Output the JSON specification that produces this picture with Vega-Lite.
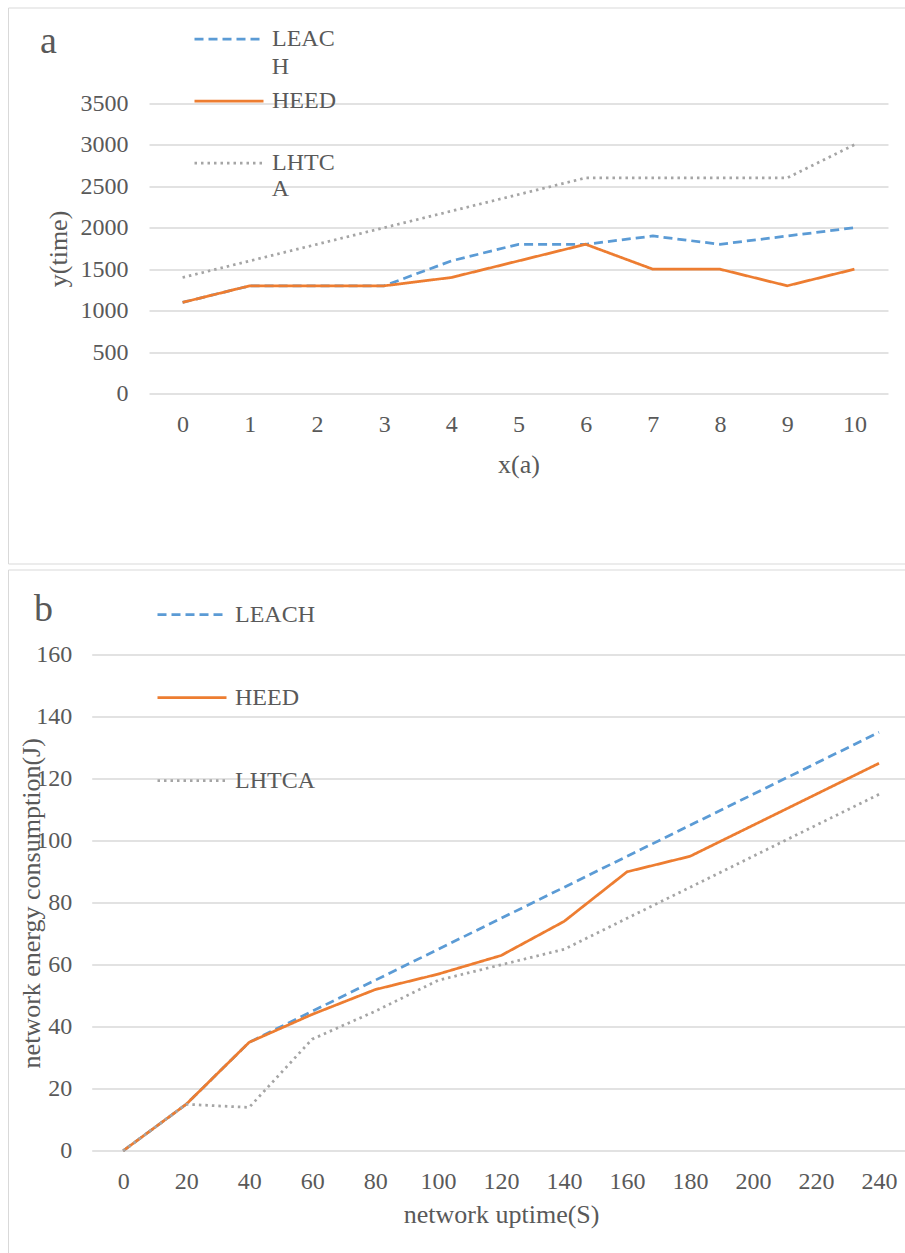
{
  "$schema": "https://vega.github.io/schema/vega-lite/v6.json",
  "padding": {"left": 7, "top": 2.5, "right": 0, "bottom": 0},
  "background": "white",
  "spacing": 4,
  "resolve": {"scale": {"color": "independent", "strokeDash": "independent", "opacity": "independent"}, "legend": {"color": "independent", "strokeDash": "independent", "opacity": "independent"}},
  "config": {
    "view": {"stroke": "#D9D9D9", "strokeWidth": 1},
    "font": "Liberation Serif",
    "axis": {
      "labelFont": "Liberation Serif", "labelFontSize": 24, "labelColor": "#595959",
      "titleFont": "Liberation Serif", "titleFontSize": 26, "titleColor": "#595959", "titleFontWeight": "normal",
      "domain": false, "ticks": false, "gridColor": "#D9D9D9", "gridWidth": 1.3
    },
    "legend": {
      "orient": "none", "direction": "vertical", "symbolType": "stroke", "symbolSize": 4761,
      "symbolStrokeWidth": 2.75, "labelFont": "Liberation Serif", "labelFontSize": 24,
      "labelColor": "#595959", "labelOffset": 7, "padding": 0, "labelLimit": 400,
      "titleFont": "Liberation Serif", "titleFontSize": 38, "titleFontWeight": "normal", "titleColor": "#595959",
      "titleOrient": "left", "titleBaseline": "top", "titleAnchor": "start"
    }
  },
  "datasets": {
    "a": [
      {"x": 0, "series": "LEACH", "value": 1100}, {"x": 1, "series": "LEACH", "value": 1300}, {"x": 2, "series": "LEACH", "value": 1300},
      {"x": 3, "series": "LEACH", "value": 1300}, {"x": 4, "series": "LEACH", "value": 1600}, {"x": 5, "series": "LEACH", "value": 1800},
      {"x": 6, "series": "LEACH", "value": 1800}, {"x": 7, "series": "LEACH", "value": 1900}, {"x": 8, "series": "LEACH", "value": 1800},
      {"x": 9, "series": "LEACH", "value": 1900}, {"x": 10, "series": "LEACH", "value": 2000},
      {"x": 0, "series": "HEED", "value": 1100}, {"x": 1, "series": "HEED", "value": 1300}, {"x": 2, "series": "HEED", "value": 1300},
      {"x": 3, "series": "HEED", "value": 1300}, {"x": 4, "series": "HEED", "value": 1400}, {"x": 5, "series": "HEED", "value": 1600},
      {"x": 6, "series": "HEED", "value": 1800}, {"x": 7, "series": "HEED", "value": 1500}, {"x": 8, "series": "HEED", "value": 1500},
      {"x": 9, "series": "HEED", "value": 1300}, {"x": 10, "series": "HEED", "value": 1500},
      {"x": 0, "series": "LHTCA", "value": 1400}, {"x": 1, "series": "LHTCA", "value": 1600}, {"x": 2, "series": "LHTCA", "value": 1800},
      {"x": 3, "series": "LHTCA", "value": 2000}, {"x": 4, "series": "LHTCA", "value": 2200}, {"x": 5, "series": "LHTCA", "value": 2400},
      {"x": 6, "series": "LHTCA", "value": 2600}, {"x": 7, "series": "LHTCA", "value": 2600}, {"x": 8, "series": "LHTCA", "value": 2600},
      {"x": 9, "series": "LHTCA", "value": 2600}, {"x": 10, "series": "LHTCA", "value": 3000}
    ],
    "b": [
      {"x": 0, "series": "LEACH", "value": 0}, {"x": 20, "series": "LEACH", "value": 15}, {"x": 40, "series": "LEACH", "value": 35},
      {"x": 60, "series": "LEACH", "value": 45}, {"x": 80, "series": "LEACH", "value": 55}, {"x": 100, "series": "LEACH", "value": 65},
      {"x": 120, "series": "LEACH", "value": 75}, {"x": 140, "series": "LEACH", "value": 85}, {"x": 160, "series": "LEACH", "value": 95},
      {"x": 180, "series": "LEACH", "value": 105}, {"x": 200, "series": "LEACH", "value": 115}, {"x": 220, "series": "LEACH", "value": 125},
      {"x": 240, "series": "LEACH", "value": 135},
      {"x": 0, "series": "HEED", "value": 0}, {"x": 20, "series": "HEED", "value": 15}, {"x": 40, "series": "HEED", "value": 35},
      {"x": 60, "series": "HEED", "value": 44}, {"x": 80, "series": "HEED", "value": 52}, {"x": 100, "series": "HEED", "value": 57},
      {"x": 120, "series": "HEED", "value": 63}, {"x": 140, "series": "HEED", "value": 74}, {"x": 160, "series": "HEED", "value": 90},
      {"x": 180, "series": "HEED", "value": 95}, {"x": 200, "series": "HEED", "value": 105}, {"x": 220, "series": "HEED", "value": 115},
      {"x": 240, "series": "HEED", "value": 125},
      {"x": 0, "series": "LHTCA", "value": 0}, {"x": 20, "series": "LHTCA", "value": 15}, {"x": 40, "series": "LHTCA", "value": 14},
      {"x": 60, "series": "LHTCA", "value": 36}, {"x": 80, "series": "LHTCA", "value": 45}, {"x": 100, "series": "LHTCA", "value": 55},
      {"x": 120, "series": "LHTCA", "value": 60}, {"x": 140, "series": "LHTCA", "value": 65}, {"x": 160, "series": "LHTCA", "value": 75},
      {"x": 180, "series": "LHTCA", "value": 85}, {"x": 200, "series": "LHTCA", "value": 95}, {"x": 220, "series": "LHTCA", "value": 105},
      {"x": 240, "series": "LHTCA", "value": 115}
    ]
  },
  "vconcat": [
    {
      "width": 905,
      "height": 556,
      "data": {"name": "a"},
      "mark": {"type": "line", "strokeWidth": 2.75},
      "encoding": {
        "x": {"field": "x", "type": "ordinal",
              "scale": {"type": "point", "range": [141, 880], "padding": 0.5},
              "axis": {"labelAngle": 0, "title": "x(a)", "offset": -170, "labelPadding": 19, "titleY": 79, "titleBaseline": "alphabetic", "grid": false}},
        "y": {"field": "value", "type": "quantitative",
              "scale": {"domain": [0, 3500], "range": [386.2, 95.7], "nice": false},
              "axis": {"title": "y(time)", "offset": -141, "labelPadding": 21, "format": "d", "values": [0, 500, 1000, 1500, 2000, 2500, 3000, 3500],
                       "titleX": -83, "titleBaseline": "alphabetic", "grid": true}},
        "color": {"field": "series", "type": "nominal",
                  "scale": {"domain": ["LEACH", "HEED", "LHTCA"], "range": ["#5B9BD5", "#ED7D31", "#A5A5A5"]},
                  "legend": {"title": ["", "a"], "titleLineHeight": 20, "titlePadding": 136, "legendX": 32, "legendY": -4.3, "rowPadding": 14,
                             "labelExpr": "datum.label == 'LEACH' ? 'LEAC' : datum.label == 'LHTCA' ? 'LHTC' : datum.label"}},
        "strokeDash": {"field": "series", "type": "nominal",
                       "scale": {"domain": ["LEACH", "HEED", "LHTCA"], "range": [[9, 5], [1, 0], [2.5, 4]]},
                       "legend": {"title": ["", "a"], "titleLineHeight": 20, "titlePadding": 136, "legendX": 32, "legendY": -4.3, "rowPadding": 14,
                                  "labelExpr": "datum.label == 'LEACH' ? 'LEAC' : datum.label == 'LHTCA' ? 'LHTC' : datum.label"}},
        "opacity": {"field": "series", "type": "ordinal", "sort": ["LEACH", "HEED", "LHTCA"],
                    "scale": {"range": [1, 1]},
                    "legend": {"title": null, "legendX": 185, "legendY": 24.5, "rowPadding": 14, "symbolOpacity": 0,
                               "symbolStrokeWidth": 0, "symbolStrokeColor": "transparent", "labelOffset": 9.75,
                               "labelExpr": "datum.label == 'LEACH' ? 'H' : datum.label == 'LHTCA' ? 'A' : ' '"}}
      }
    },
    {
      "width": 905,
      "height": 690,
      "data": {"name": "b"},
      "mark": {"type": "line", "strokeWidth": 2.75},
      "encoding": {
        "x": {"field": "x", "type": "ordinal",
              "scale": {"type": "point", "range": [83.7, 902.5], "padding": 0.5},
              "axis": {"labelAngle": 0, "title": "network uptime(S)", "offset": -108.7, "labelPadding": 19, "titleY": 72, "titleBaseline": "alphabetic", "grid": false}},
        "y": {"field": "value", "type": "quantitative",
              "scale": {"domain": [0, 160], "range": [581.3, 85.3], "nice": false},
              "axis": {"title": "network energy consumption(J)", "offset": -83.7, "labelPadding": 20, "format": "d", "values": [0, 20, 40, 60, 80, 100, 120, 140, 160],
                       "titleX": -51.7, "titleBaseline": "alphabetic", "grid": true}},
        "color": {"field": "series", "type": "nominal",
                  "scale": {"domain": ["LEACH", "HEED", "LHTCA"], "range": ["#5B9BD5", "#ED7D31", "#A5A5A5"]},
                  "legend": {"title": ["", "b"], "titleLineHeight": 12, "titlePadding": 103, "legendX": 26, "legendY": 9, "rowPadding": 35}},
        "strokeDash": {"field": "series", "type": "nominal",
                       "scale": {"domain": ["LEACH", "HEED", "LHTCA"], "range": [[9, 5], [1, 0], [2.5, 4]]},
                       "legend": {"title": ["", "b"], "titleLineHeight": 12, "titlePadding": 103, "legendX": 26, "legendY": 9, "rowPadding": 35}}
      }
    }
  ]
}
